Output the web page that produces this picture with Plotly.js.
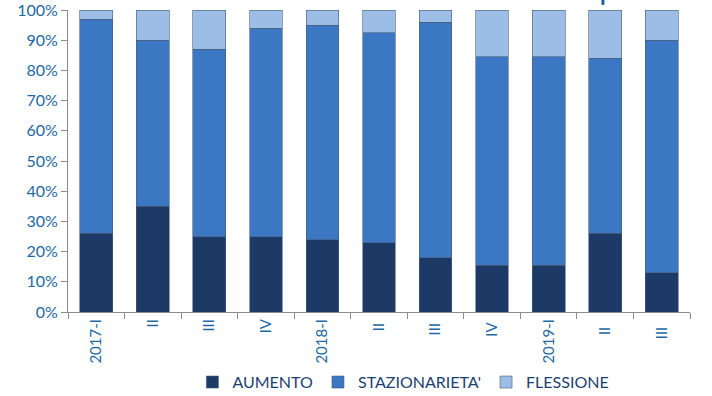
<!DOCTYPE html>
<html><head><meta charset="utf-8">
<script src="https://cdn.plot.ly/plotly-3.0.1.min.js"></script>
<style>html,body{margin:0;padding:0;background:#fff}#c{width:712px;height:396px}</style>
</head><body><div id="c"></div>
<script>
const categories = ["2017-I","II","III","IV","2018-I","II ","III ","IV ","2019-I","II  ","III  "];
const aumento = [26, 35, 25, 25, 24, 23, 18, 15.5, 15.5, 26, 13];
const stazionarieta = [71, 55, 62, 69, 71, 69.5, 78, 69, 69, 58, 77];
const flessione = [3, 10, 13, 6, 5, 7.5, 4, 15.5, 15.5, 16, 10];
const seriesNames = ["AUMENTO","STAZIONARIETA'","FLESSIONE"];
const colors = ["#1d3a66","#3b77c2","#9cbde6"];
const yTicks = [0,0.1,0.2,0.3,0.4,0.5,0.6,0.7,0.8,0.9,1];

const data = [aumento, stazionarieta, flessione].map((v,i)=>({
  type:'bar', x:categories, y:v.map(d=>d/100), name:seriesNames[i],
  marker:{color:colors[i], line:{color:'#4a5d7a', width:0.6}},
  hoverinfo:'skip'
}));

const layout = {
  width:712, height:396,
  margin:{l:68, r:22, t:10, b:84},
  barmode:'stack', bargap:0.42,
  paper_bgcolor:'#fff', plot_bgcolor:'#fff',
  font:{family:'Lato, "Open Sans", sans-serif', color:'#2468a2'},
  showlegend:true,
  legend:{orientation:'h', traceorder:'normal', xref:'paper', x:0.2, xanchor:'left',
    yref:'container', y:0.035, yanchor:'middle',
    font:{size:16, color:'#1d3f70'}, itemwidth:30},
  xaxis:{type:'category', automargin:false, showline:true, linecolor:'#8c8c8c', linewidth:1,
    ticks:'outside', tickson:'boundaries', ticklen:6, tickcolor:'#8c8c8c',
    tickangle:-90, tickfont:{size:15, color:'#2468a2'}, showgrid:false, fixedrange:true},
  yaxis:{range:[0,1], automargin:false, tickmode:'array', tickvals:yTicks, tickformat:'.0%', showline:true, linecolor:'#8c8c8c',
    ticks:'outside', ticklen:6, tickcolor:'#8c8c8c', showgrid:false, zeroline:false,
    ticklabeloverflow:'allow', tickfont:{size:16, color:'#2468a2'}, fixedrange:true},
  shapes:[{type:'line', xref:'paper', yref:'paper', x0:0.86, x1:0.86, y0:1.017, y1:1.04,
    line:{color:'#1f5fa0', width:3}}]
};
Plotly.newPlot('c', data, layout, {displayModeBar:false, staticPlot:true});
</script></body></html>
